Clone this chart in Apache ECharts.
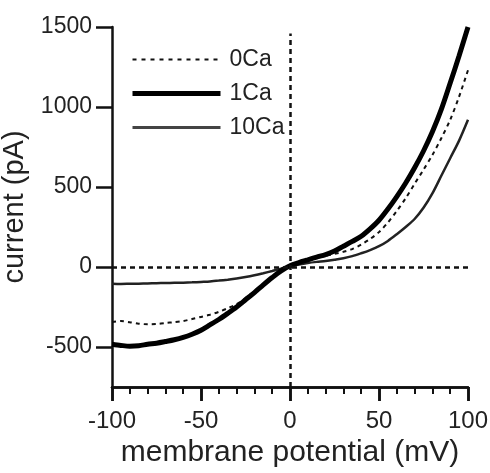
<!DOCTYPE html>
<html>
<head>
<meta charset="utf-8">
<script src="https://cdn.jsdelivr.net/npm/echarts@6/dist/echarts.min.js"></script>
<style>html,body{margin:0;padding:0;background:#fff;}#c{width:490px;height:473px;}</style>
</head>
<body>
<div id="c"></div>
<script>
const voltage = [-100,-95,-90,-85,-80,-75,-70,-65,-60,-55,-50,-45,-40,-35,-30,-25,-20,-15,-10,-5,0,5,10,15,20,25,30,35,40,45,50,55,60,65,70,75,80,85,90,95,100];
const current0Ca = [-344,-338,-345,-354,-358,-356,-350,-345,-338,-325,-312,-298,-280,-258,-232,-195,-150,-106,-62,-22,6,24,40,56,70,82,95,112,140,175,218,278,350,430,520,608,700,805,920,1065,1230];
const current1Ca = [-483,-490,-495,-492,-483,-476,-466,-455,-440,-420,-395,-362,-328,-290,-250,-205,-160,-112,-66,-24,8,28,45,62,78,100,130,160,192,238,292,362,440,525,620,725,845,985,1150,1320,1500];
const current10Ca = [-104,-106,-105,-104,-103,-101,-100,-99,-98,-96,-93,-90,-85,-79,-72,-63,-52,-39,-25,-10,5,16,25,32,38,46,55,68,86,106,130,163,205,250,300,370,460,570,680,790,920];
const seriesNames = ['0Ca','1Ca','10Ca'];
const yTickValues = [-500,0,500,1000,1500];

const FONT = '"Liberation Sans", Arial, Helvetica, sans-serif';
const pairs = arr => voltage.map((v,i)=>[v, arr[i]]);

const chart = echarts.init(document.getElementById('c'), null, {renderer:'canvas'});
chart.setOption({
  animation:false,
  grid:{left:112,right:22,top:27,bottom:86,outerBoundsMode:'none'},
  legend:{
    orient:'vertical', left:130, top:48, padding:0,
    itemWidth:88, itemHeight:14, itemGap:11,
    itemStyle:{opacity:0},
    textStyle:{fontFamily:FONT,fontSize:23,color:'#222',padding:[0,0,0,4]},
    data:[
      {name:seriesNames[0], lineStyle:{width:2,type:[4,5],color:'#111'}},
      {name:seriesNames[1], lineStyle:{width:5,color:'#000'}},
      {name:seriesNames[2], lineStyle:{width:3,color:'#444'}}
    ]
  },
  xAxis:[{
    type:'value', min:-100, max:100, interval:50,
    name:'membrane potential (mV)', nameLocation:'middle', nameGap:46,
    nameTextStyle:{fontFamily:FONT,fontSize:30,color:'#222'},
    axisLine:{show:true,onZero:false,lineStyle:{color:'#111',width:2.5}},
    axisTick:{show:true,length:14,lineStyle:{color:'#111',width:2.5}},
    minorTick:{show:true,splitNumber:5,length:7,lineStyle:{color:'#111',width:2}},
    axisLabel:{fontFamily:FONT,fontSize:24,color:'#222',margin:22,formatter:v=>String(v)},
    splitLine:{show:false}
  },{
    type:'value', min:-100, max:100, interval:50, position:'bottom',
    axisLine:{show:true,onZero:false,lineStyle:{color:'#111',width:2.5}},
    axisTick:{show:true,length:14,lineStyle:{color:'#111',width:2.5}},
    minorTick:{show:true,splitNumber:5,length:7,lineStyle:{color:'#111',width:2}},
    axisLabel:{color:'rgba(0,0,0,0)'},
    splitLine:{show:false}
  }],
  yAxis:{
    type:'value', min:-750, max:1500,
    name:'current (pA)', nameLocation:'middle', nameGap:60,
    nameTextStyle:{fontFamily:FONT,fontSize:29,color:'#222'},
    axisLine:{show:true,onZero:false,lineStyle:{color:'#111',width:2.5}},
    axisTick:{show:true,length:16,lineStyle:{color:'#111',width:2.5},customValues:yTickValues},
    axisLabel:{fontFamily:FONT,fontSize:23,color:'#222',margin:20,customValues:yTickValues,formatter:v=>String(v)},
    splitLine:{show:false}
  },
  series:[
    {
      name:seriesNames[0], type:'line', data:pairs(current0Ca), smooth:0.3, symbol:'none',
      lineStyle:{color:'#111',width:2,type:[4,4]},
      itemStyle:{color:'#111'},
      z:3,
      markLine:{
        silent:true, symbol:'none', label:{show:false},
        data:[
          [{coord:[-100,0]},{coord:[100,0]}],
          [{coord:[0,-750]},{coord:[0,1460]}]
        ],
        lineStyle:{color:'#111',width:2.5,type:[5,4]}
      }
    },
    {
      name:seriesNames[1], type:'line', data:pairs(current1Ca), smooth:0.3, symbol:'none',
      lineStyle:{color:'#000',width:5},
      itemStyle:{color:'#000'}, z:4
    },
    {
      name:seriesNames[2], type:'line', data:pairs(current10Ca), smooth:0.3, symbol:'none',
      lineStyle:{color:'#222',width:2.5},
      itemStyle:{color:'#444'}, z:2
    }
  ]
});
</script>
</body>
</html>
